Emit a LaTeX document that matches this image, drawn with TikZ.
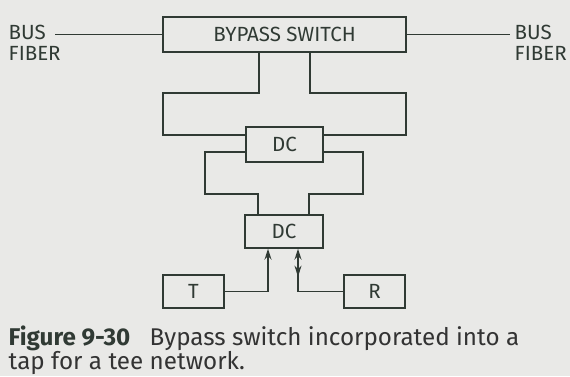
\documentclass[tikz,border=0pt]{standalone}
\usepackage{fontspec}
\setmainfont{Fira Sans}
\usetikzlibrary{arrows.meta}
\definecolor{ink}{RGB}{48,58,52}
\definecolor{paper}{RGB}{233,233,231}
\begin{document}
\begin{tikzpicture}[x=1pt,y=-1pt,line width=1.4pt,color=ink,>={Stealth[length=11pt,width=7pt]},
  every node/.style={font=\fontsize{20.5}{21}\selectfont},
  blk/.style={draw,minimum height=33pt,inner sep=0pt}]
  \fill[paper] (0,0) rectangle (570,376);
  \useasboundingbox (0,0) rectangle (570,376);
  % blocks
  \node[blk,minimum width=243pt,minimum height=35pt] (sw) at (284.5,34.5) {BYPASS SWITCH};
  \node[blk,minimum width=77pt,minimum height=35pt] (dc1) at (284.5,144.5) {DC};
  \node[blk,minimum width=78pt] (dc2) at (284,231.5) {DC};
  \node[blk,minimum width=61pt] (t) at (193.5,291.5) {T};
  \node[blk,minimum width=61pt] (r) at (374.5,291.5) {R};
  \node[align=left,anchor=north west,inner sep=0pt] (busl) at (8,24) {BUS\\FIBER};
  \node[align=left,anchor=north west,inner sep=0pt] (busr) at (514,24) {BUS\\FIBER};
  % bus fiber
  \draw[shorten <=-6pt] (busl.east |- sw.west) -- (sw.west);
  \draw[shorten >=4pt] (sw.east) -- (busr.west |- sw.east);
  % loops
  \draw ([xshift=-25.5pt]sw.south) |- (163,93) |- ([yshift=9.5pt]dc1.west);
  \draw ([xshift=25.5pt]sw.south) |- (406,93) |- ([yshift=9.5pt]dc1.east);
  \draw ([yshift=-7.5pt]dc1.west) -| (205,194) -| ([xshift=-26pt]dc2.north);
  \draw ([yshift=-7.5pt]dc1.east) -| (363,194) -| ([xshift=25pt]dc2.north);
  % transmitter / receiver
  \draw[->] (t.east) -| ([xshift=-16pt]dc2.south);
  \draw[->] (r.west) -| ([xshift=14pt]dc2.south);
  \draw[->] ([xshift=14pt,yshift=-9pt]dc2.south) -- ++(0,19);
  % caption
  \node[anchor=north west,align=left,inner sep=0pt,font=\fontsize{24.2}{23}\selectfont,text=black!80] (cap) at (8,325)
    {\textbf{\color{ink}Figure 9-30}\hspace{0.8em}Bypass switch incorporated into a\\tap for a tee network.};
\end{tikzpicture}
\end{document}
